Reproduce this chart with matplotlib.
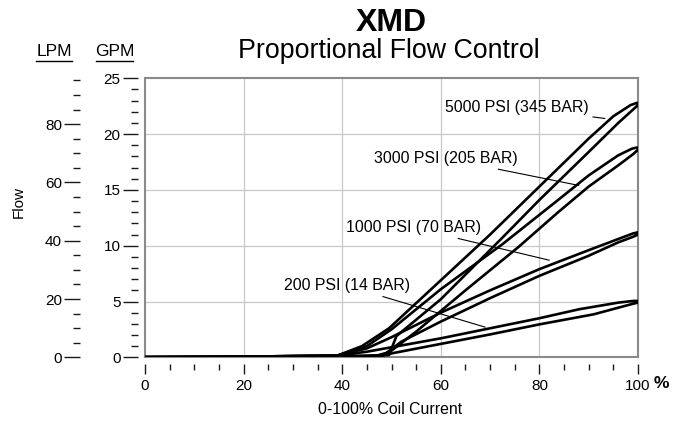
import matplotlib
matplotlib.use("Agg")
import matplotlib.pyplot as plt
from matplotlib.lines import Line2D
import numpy as np

plt.rcParams['font.family'] = ['Liberation Sans', 'DejaVu Sans']

# ---------------- data (Coil current %, Flow GPM) ----------------
pressures = ["5000 PSI (345 BAR)", "3000 PSI (205 BAR)", "1000 PSI (70 BAR)", "200 PSI (14 BAR)"]

p5000_left_x = [0, 20, 39, 44, 49.5, 60, 70, 80, 90, 95, 98.5, 99.8]
p5000_left_y = [0.02, 0.06, 0.15, 1.0, 2.6, 6.9, 11.0, 15.3, 19.6, 21.6, 22.6, 22.8]
p5000_right_x = [100, 99, 96, 90, 80, 72, 60, 51, 49.5, 45, 40]
p5000_right_y = [22.6, 22.2, 21.0, 18.4, 14.1, 10.5, 5.2, 1.9, 0.2, 0.1, 0.1]

p3000_left_x = [0, 20, 39, 45, 50, 60, 72.4, 83.8, 90, 96, 98.8, 99.8]
p3000_left_y = [0.02, 0.06, 0.15, 1.0, 2.5, 6.1, 10.1, 14.1, 16.3, 18.1, 18.7, 18.8]
p3000_right_x = [100, 99, 96, 90, 83.8, 75.8, 65, 55, 50, 48, 44, 40]
p3000_right_y = [18.6, 18.2, 17.2, 15.3, 13.0, 9.9, 6.0, 2.3, 0.6, 0.15, 0.1, 0.1]

p1000_left_x = [0, 20, 39, 45, 50, 60, 70, 80, 90, 96, 99, 100]
p1000_left_y = [0.02, 0.06, 0.15, 0.8, 1.8, 4.0, 6.0, 7.9, 9.6, 10.6, 11.1, 11.2]
p1000_right_x = [100, 99, 96, 90, 80, 70, 60, 52, 49, 47, 40]
p1000_right_y = [11.0, 10.8, 10.3, 9.1, 7.3, 5.3, 3.2, 1.4, 0.4, 0.15, 0.1]

p200_left_x = [0, 20, 39, 45, 50, 60, 70, 80, 88, 92, 96, 99, 100]
p200_left_y = [0.02, 0.06, 0.15, 0.5, 0.9, 1.7, 2.6, 3.5, 4.3, 4.6, 4.9, 5.05, 5.05]
p200_right_x = [100, 99, 91, 80, 70, 60, 50, 48, 44, 40]
p200_right_y = [4.9, 4.8, 3.85, 2.95, 2.05, 1.2, 0.35, 0.15, 0.1, 0.1]

x_major = [0, 20, 40, 60, 80, 100]
x_tick_labels = ["0", "20", "40", "60", "80", "100"]
gpm_major = [0, 5, 10, 15, 20, 25]
lpm_major = [0, 20, 40, 60, 80]
LPM_PER_GPM = 3.83

# ---------------- figure ----------------
W, H = 678, 426
fig = plt.figure(figsize=(W / 100, H / 100), dpi=100)
ax = fig.add_axes([145 / W, 68.7 / H, 493 / W, 279 / H])

loops = [
    (p5000_left_x, p5000_left_y, p5000_right_x, p5000_right_y),
    (p3000_left_x, p3000_left_y, p3000_right_x, p3000_right_y),
    (p1000_left_x, p1000_left_y, p1000_right_x, p1000_right_y),
    (p200_left_x, p200_left_y, p200_right_x, p200_right_y),
]
for lx, ly, rx, ry in loops:
    ax.plot(list(lx) + list(rx), list(ly) + list(ry), color='black', lw=1.9,
            solid_joinstyle='round', solid_capstyle='round', zorder=3)

ax.set_xlim(0, 100)
ax.set_ylim(0, 25)
ax.set_xticks([20, 40, 60, 80])
ax.set_yticks([5, 10, 15, 20])
ax.tick_params(left=False, bottom=False, labelleft=False, labelbottom=False)
ax.grid(True, color='#c8c8c8', lw=0.9)
ax.set_axisbelow(True)
for s in ax.spines.values():
    s.set_color('#8a8a8a')
    s.set_linewidth(1.5)

tick_color = '#1a1a1a'
TICK_FS = 11

# x tick axis (detached below)
sx = ax.secondary_xaxis(-7 / 279)
sx.set_xticks(x_major)
sx.set_xticklabels(x_tick_labels)
sx.set_xticks(np.arange(0, 101, 5), minor=True)
sx.tick_params(which='major', direction='out', length=7.5, width=1.0, color=tick_color,
               labelsize=TICK_FS, pad=3)
sx.tick_params(which='minor', direction='out', length=4, width=1.0, color=tick_color)
sx.spines['bottom'].set_visible(False)
fig.text(654 / W, 1 - 384 / H, "%", fontsize=12.5, fontweight='bold', ha='left', va='center')

# GPM axis (detached left)
sy = ax.secondary_yaxis(-7 / 493)
sy.set_yticks(gpm_major)
sy.set_yticks(np.arange(0, 26, 1), minor=True)
sy.tick_params(which='major', direction='out', length=11, width=1.0, color=tick_color,
               labelsize=TICK_FS, pad=1.5)
sy.tick_params(which='minor', direction='out', length=5, width=1.0, color=tick_color)
sy.spines['left'].set_visible(False)

# LPM axis
sl = ax.secondary_yaxis(-65 / 493, functions=(lambda g: g * LPM_PER_GPM, lambda l: l / LPM_PER_GPM))
sl.set_yticks(lpm_major)
sl.set_yticks(np.arange(0, 96, 5), minor=True)
sl.tick_params(which='major', direction='out', length=11.5, width=1.0, color=tick_color,
               labelsize=TICK_FS, pad=1.5)
sl.tick_params(which='minor', direction='out', length=5, width=1.0, color=tick_color)
sl.spines['left'].set_visible(False)

# titles
fig.text(391 / W, 1 - 23 / H, "XMD", fontsize=23, fontweight='bold', ha='center', va='center')
fig.text(389 / W, 1 - 51 / H, "Proportional Flow Control", fontsize=19.3, ha='center', va='center')

# LPM / GPM headers with underline
fig.text(54 / W, 1 - 51 / H, "LPM", fontsize=12.6, ha='center', va='center')
fig.text(114.5 / W, 1 - 51 / H, "GPM", fontsize=12.6, ha='center', va='center')
fig.add_artist(Line2D([36 / W, 72 / W], [1 - 60.5 / H, 1 - 60.5 / H], color='black', lw=1.0))
fig.add_artist(Line2D([96 / W, 133 / W], [1 - 60.5 / H, 1 - 60.5 / H], color='black', lw=1.0))

fig.text(19 / W, 1 - 202 / H, "Flow", fontsize=11, rotation=90, ha='center', va='center')
fig.text(390 / W, 1 - 410 / H, "0-100% Coil Current", fontsize=11.4, ha='center', va='center')

# curve labels with leader lines
annots = [
    (pressures[0], (90.0, 22.4), (93.3, 21.4)),
    (pressures[1], (75.6, 17.8), (88.0, 15.4)),
    (pressures[2], (68.2, 11.6), (82.0, 8.7)),
    (pressures[3], (53.8, 6.4), (69.0, 2.7)),
]
for txt, tpos, end in annots:
    ax.annotate(txt, xy=end, xytext=tpos, ha='right', va='center', fontsize=11.4,
                arrowprops=dict(arrowstyle='-', color='black', lw=0.8,
                                shrinkA=1, shrinkB=0), zorder=4)

fig.savefig("out.png", dpi=100)
